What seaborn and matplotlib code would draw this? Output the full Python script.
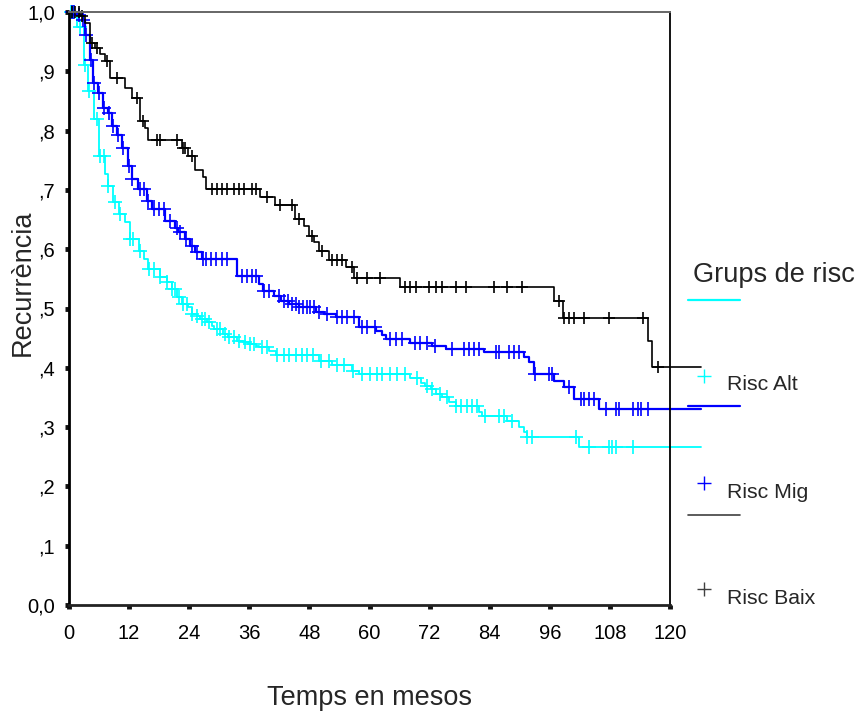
import numpy as np
import pandas as pd
import matplotlib
matplotlib.use("Agg")
import matplotlib.pyplot as plt
from matplotlib.lines import Line2D
import seaborn as sns

# ---------------- data ----------------
groups = ["Risc Alt", "Risc Mig", "Risc Baix"]
colors = ["#00FFFF", "#0000FF", "#000000"]

t_alt = [0, 1.5, 3.0, 3.8, 5.0, 6.0, 7.2, 7.8, 8.8, 10.0, 11.2, 12.2, 14.0, 15.0,
         15.8, 18.1, 19.5, 20.5, 21.5, 22.5, 23.7, 24.5, 25.5, 26.1, 27.5, 28.5,
         29.0, 30.7, 31.7, 33.5, 34.7, 36.0, 37.4, 38.0, 40.0, 41.4, 50.0, 52.6,
         56.6, 58.0, 68.0, 70.3, 71.0, 72.3, 73.3, 74.5, 75.9, 77.3, 81.9, 82.5,
         87.4, 89.8, 90.8, 91.5, 101.8]
s_alt = [1.0, 0.975, 0.91, 0.866, 0.82, 0.758, 0.726, 0.706, 0.680, 0.660, 0.646,
         0.618, 0.597, 0.584, 0.567, 0.553, 0.545, 0.533, 0.519, 0.508, 0.502,
         0.490, 0.487, 0.482, 0.477, 0.470, 0.465, 0.457, 0.452, 0.445, 0.443,
         0.440, 0.437, 0.435, 0.428, 0.421, 0.411, 0.404, 0.394, 0.389, 0.382,
         0.375, 0.369, 0.365, 0.355, 0.350, 0.342, 0.335, 0.325, 0.318, 0.310,
         0.301, 0.291, 0.283, 0.266]
c_alt = [0.4, 0.8, 2.2, 3.2, 3.9, 5.6, 6.2, 7.0, 7.8, 9.2, 10.2, 12.2, 12.8, 14.1,
         16.0, 17.0, 18.1, 19.5, 20.5, 21.2, 22.0, 22.8, 23.5, 24.6, 25.6, 26.5,
         27.2, 28.0, 29.5, 30.2, 31.2, 32.0, 33.0, 34.0, 35.2, 36.2, 37.0, 38.5,
         39.5, 41.5, 43.0, 44.0, 45.3, 46.5, 47.5, 48.8, 50.3, 52.0, 53.6, 55.0,
         56.8, 58.5, 60.0, 61.5, 62.5, 64.0, 65.5, 67.0, 69.5, 71.5, 72.5, 74.0,
         75.5, 77.3, 78.2, 79.5, 80.5, 81.5, 83.0, 85.8, 86.8, 88.5, 91.5, 92.5,
         101.2, 103.8, 107.8, 108.5, 109.2, 112.7]

t_mig = [0, 1.5, 2.8, 3.2, 4.2, 4.8, 5.8, 6.8, 7.8, 8.6, 9.6, 10.6, 11.8, 12.5,
         13.7, 15.5, 16.5, 19.1, 21.1, 21.7, 23.1, 24.1, 25.1, 26.5, 33.5, 38.0,
         38.7, 41.0, 42.4, 44.0, 46.0, 49.4, 51.0, 53.4, 58.0, 61.3, 62.4, 63.3,
         68.0, 72.5, 75.2, 82.9, 90.8, 91.8, 92.8, 96.8, 98.8, 100.8, 105.8]
s_mig = [1.0, 0.995, 0.987, 0.961, 0.919, 0.880, 0.863, 0.838, 0.829, 0.807, 0.792,
         0.770, 0.741, 0.719, 0.702, 0.682, 0.668, 0.648, 0.635, 0.629, 0.618,
         0.606, 0.595, 0.584, 0.555, 0.541, 0.530, 0.521, 0.513, 0.508, 0.502,
         0.494, 0.490, 0.485, 0.469, 0.462, 0.455, 0.448, 0.441, 0.437, 0.431,
         0.426, 0.418, 0.410, 0.389, 0.377, 0.367, 0.347, 0.330]
c_mig = [0.5, 1.0, 2.0, 2.8, 3.4, 4.3, 5.0, 6.0, 6.9, 8.0, 8.8, 9.8, 10.8, 12.0,
         12.6, 14.1, 15.0, 15.8, 17.0, 18.0, 19.0, 20.2, 21.5, 22.2, 23.3, 24.5,
         25.5, 26.7, 27.3, 28.3, 29.3, 30.5, 31.5, 34.5, 35.5, 36.5, 37.3, 39.0,
         40.0, 42.0, 43.0, 43.8, 44.6, 45.3, 46.0, 46.8, 47.5, 48.2, 49.0, 50.0,
         51.5, 53.5, 54.5, 55.5, 57.0, 58.5, 59.5, 61.0, 64.0, 65.3, 66.5, 69.0,
         70.0, 71.5, 73.0, 76.5, 78.9, 79.9, 80.9, 81.9, 85.3, 85.9, 87.8, 88.8,
         89.8, 93.0, 95.8, 96.5, 99.8, 102.2, 102.8, 103.8, 104.8, 107.2, 109.2,
         109.8, 112.7, 113.7, 114.3, 115.7]

t_baix = [0, 2.2, 3.2, 4.2, 5.2, 6.2, 7.2, 8.2, 11.2, 12.5, 14.1, 15.1, 15.8, 22.5,
          23.7, 25.1, 26.7, 27.4, 38.1, 41.2, 45.1, 47.0, 48.0, 49.0, 50.0, 52.0,
          55.3, 57.0, 66.0, 96.8, 98.6, 115.7, 116.4]
s_baix = [1.0, 0.993, 0.981, 0.948, 0.939, 0.929, 0.917, 0.889, 0.871, 0.855, 0.816,
          0.804, 0.784, 0.770, 0.758, 0.733, 0.722, 0.702, 0.688, 0.674, 0.651,
          0.639, 0.623, 0.612, 0.597, 0.582, 0.570, 0.552, 0.536, 0.513, 0.484,
          0.445, 0.401]
c_baix = [0.5, 1.2, 2.0, 2.6, 4.5, 5.5, 7.5, 9.5, 13.5, 14.8, 17.5, 18.1, 21.5,
          22.8, 23.2, 24.5, 28.5, 29.5, 30.5, 31.5, 33.0, 34.0, 35.0, 36.5, 37.3,
          39.5, 42.2, 44.5, 46.0, 48.5, 50.5, 52.5, 53.5, 54.5, 56.5, 57.5, 59.5,
          62.0, 67.0, 68.1, 69.3, 71.9, 73.3, 74.5, 77.3, 79.3, 84.9, 87.5, 90.4,
          97.8, 98.8, 99.8, 100.8, 102.8, 107.8, 114.7, 117.7]

t_end = 126.2
x_ticks = [0, 12, 24, 36, 48, 60, 72, 84, 96, 108, 120]
y_ticks = [0.0, 0.1, 0.2, 0.3, 0.4, 0.5, 0.6, 0.7, 0.8, 0.9, 1.0]
y_ticklabels = ["0,0", ",1", ",2", ",3", ",4", ",5", ",6", ",7", ",8", ",9", "1,0"]

# ---------------- figure ----------------
sns.set_style("ticks")
plt.rcParams["font.family"] = ["Liberation Sans", "DejaVu Sans"]

W, H = 857, 717
fig = plt.figure(figsize=(W / 100, H / 100), dpi=100)
ax = fig.add_axes([69 / W, 1 - 605 / H, (670 - 69) / W, (605 - 12) / H])

series = [(t_alt, s_alt, c_alt), (t_mig, s_mig, c_mig), (t_baix, s_baix, c_baix)]
rows = []
for g, (tt, ss, _) in zip(groups, series):
    for a, b in zip(tt + [t_end], ss + [ss[-1]]):
        rows.append({"t": a, "s": b, "grup": g})
df = pd.DataFrame(rows)

lws = {"Risc Alt": 1.3, "Risc Mig": 1.6, "Risc Baix": 1.2}
msz = {"Risc Alt": 10, "Risc Mig": 10, "Risc Baix": 8.5}

for g, col, (tt, ss, cc) in zip(groups, colors, series):
    sub = df[df["grup"] == g]
    sns.lineplot(data=sub, x="t", y="s", color=col, drawstyle="steps-post",
                 estimator=None, sort=False, lw=lws[g], ax=ax, legend=False)
    ln = ax.lines[-1]
    ln.set_clip_on(False)
    idx = np.searchsorted(np.array(tt), np.array(cc), side="right") - 1
    cy = np.array(ss)[idx]
    ax.plot(cc, cy, linestyle="none", marker="+", markersize=msz[g],
            markeredgewidth=1.2, color=col, clip_on=False)

ax.set_xlim(0, 120)
ax.set_ylim(0, 1.0)
ax.set_xticks(x_ticks)
ax.set_xticklabels([str(v) for v in x_ticks])
ax.set_yticks(y_ticks)
ax.set_yticklabels(y_ticklabels)
ax.tick_params(axis="both", direction="out", length=3, width=3.5, color="#111111",
               labelsize=14.5, labelcolor="black")
ax.tick_params(axis="x", pad=11)
ax.tick_params(axis="y", pad=7)
ax.set_xlabel("")
ax.set_ylabel("")

for side, lw, col in [("left", 2.0, "black"), ("bottom", 2.0, "#222222"),
                      ("top", 1.4, "#666666"), ("right", 1.3, "black")]:
    ax.spines[side].set_visible(True)
    ax.spines[side].set_linewidth(lw)
    ax.spines[side].set_color(col)

fig.text(369.5 / W, 1 - 698 / H, "Temps en mesos", ha="center", va="center",
         fontsize=19.5)
fig.text(23 / W, 1 - 283 / H, "Recurrència", ha="center", va="center",
         rotation=90, fontsize=19.5)

# ---------------- legend (SPSS style) ----------------
fig.text(693 / W, 1 - 275 / H, "Grups de risc", ha="left", va="center", fontsize=19.5)
leg_line_y = [300, 406, 515]
leg_mark_y = [376, 483, 589]
leg_text_y = [385, 492, 598]
for g, col, ly, my, ty in zip(groups, colors, leg_line_y, leg_mark_y, leg_text_y):
    fig.add_artist(Line2D([688 / W, 740 / W], [1 - ly / H, 1 - ly / H],
                          transform=fig.transFigure, color=col,
                          lw=1.6 if col != "#000000" else 1.2,
                          alpha=1.0 if col != "#000000" else 0.75))
    fig.add_artist(Line2D([704 / W], [1 - my / H], transform=fig.transFigure,
                          linestyle="none", marker="+", markersize=10,
                          markeredgewidth=1.0, color=col,
                          alpha=1.0 if col != "#000000" else 0.75))
    fig.text(727 / W, 1 - ty / H, g, ha="left", va="center", fontsize=15.3)

fig.savefig("out.png", dpi=100)
